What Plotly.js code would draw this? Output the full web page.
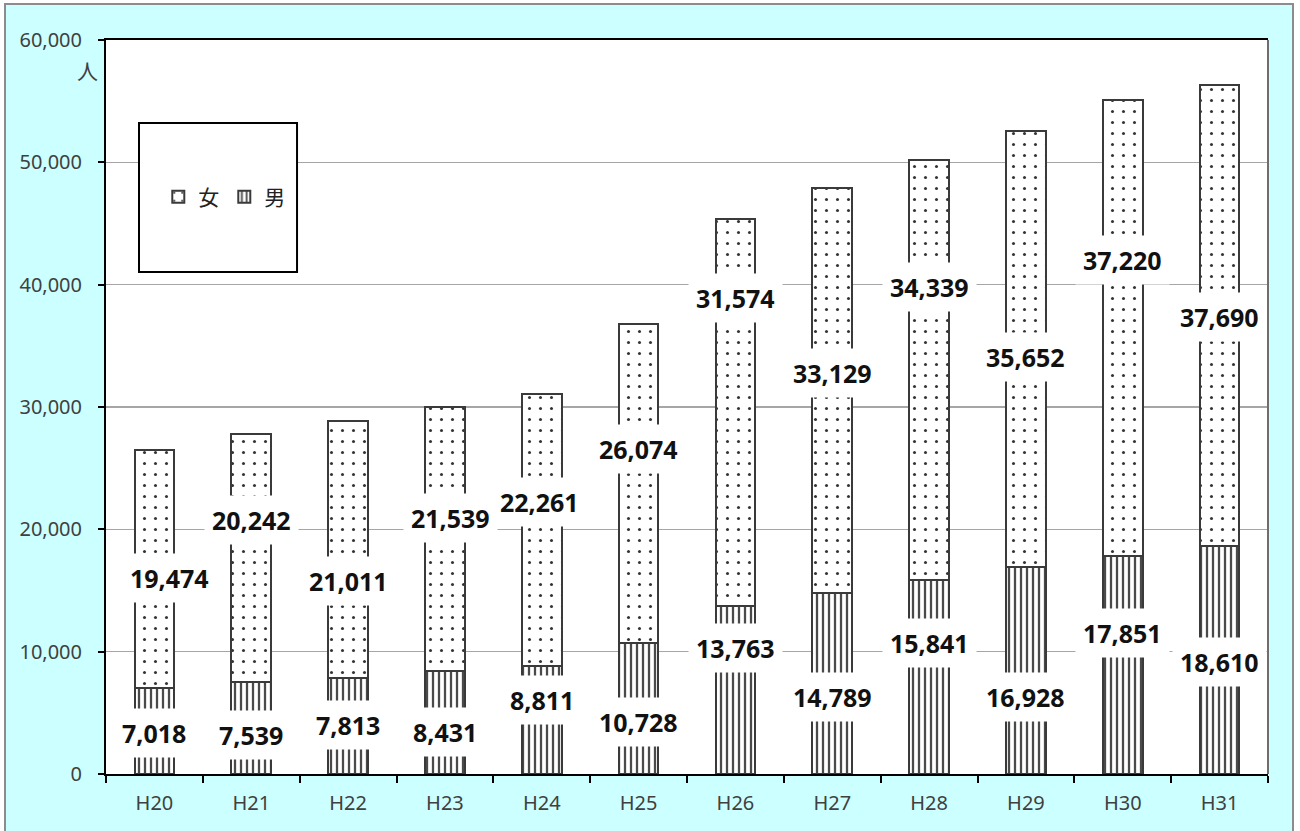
<!DOCTYPE html>
<html>
<head>
<meta charset="utf-8">
<script src="https://cdn.plot.ly/plotly-3.0.1.min.js"></script>
<style>
  html, body { margin: 0; padding: 0; overflow: hidden; background: #ffffff; width: 1300px; height: 831px; }
  #frame { position: absolute; left: 4px; top: 3px; width: 1290px; height: 840px;
           border: 2px solid #8c8c8c; background: #ccffff; box-sizing: border-box; }
  #chart { position: absolute; left: 7px; top: 5px; width: 1286px; height: 826px; }
</style>
</head>
<body>
<div id="frame"></div>
<div id="chart"></div>
<script>
// ---- data ----
const categories = ['H20','H21','H22','H23','H24','H25','H26','H27','H28','H29','H30','H31'];
const male   = [7018, 7539, 7813, 8431, 8811, 10728, 13763, 14789, 15841, 16928, 17851, 18610];
const female = [19474, 20242, 21011, 21539, 22261, 26074, 31574, 33129, 34339, 35652, 37220, 37690];
const seriesNames = ['男', '女'];
const yTickValues = [0, 10000, 20000, 30000, 40000, 50000, 60000];

// ---- label placement (data-unit heights where each value label sits) ----
const maleLabelAt   = [3350, 3190, 4000, 3430, 6050, 4250, 10300, 6290, 10710, 6290, 11530, 9160];
const femaleLabelAt = [16020, 20760, 15780, 20930, 22240, 26570, 38910, 32780, 39810, 34090, 42020, 37360];
const labelShiftX   = [15, 0, 0, 6, -2, 0, 0, 0, 0, 0, 0, 0];

const fmt = v => v.toLocaleString('en-US');

const traces = [
  {
    type: 'bar', name: seriesNames[0], x: categories, y: male,
    width: 0.41,
    marker: {
      color: '#ffffff',
      line: { color: '#3a3a3a', width: 2 },
      pattern: { shape: '|', fgcolor: '#4a4a4a', bgcolor: '#ffffff', size: 6, solidity: 0.38 }
    },
    hoverinfo: 'skip'
  },
  {
    type: 'bar', name: seriesNames[1], x: categories, y: female,
    width: 0.41,
    marker: {
      color: '#ffffff',
      line: { color: '#3a3a3a', width: 2 },
      pattern: { shape: '.', fgcolor: '#333333', bgcolor: '#ffffff', size: 11, solidity: 0.06 }
    },
    hoverinfo: 'skip'
  }
];

const labelFont = { family: '"Noto Sans", "DejaVu Sans", sans-serif', size: 25, color: '#111111', weight: 700 };
const annotations = [];
categories.forEach((c, i) => {
  annotations.push({
    x: c, y: maleLabelAt[i], xref: 'x', yref: 'y',
    text: '<b>' + fmt(male[i]) + '</b>', showarrow: false,
    font: labelFont, bgcolor: '#ffffff', borderpad: 7, xshift: 0
  });
  annotations.push({
    x: c, y: femaleLabelAt[i], xref: 'x', yref: 'y',
    text: '<b>' + fmt(female[i]) + '</b>', showarrow: false,
    font: labelFont, bgcolor: '#ffffff', borderpad: 7, xshift: labelShiftX[i]
  });
});
annotations.push({
  x: -0.005, y: 0.959, xref: 'paper', yref: 'paper', xanchor: 'right', yanchor: 'middle',
  text: '人', showarrow: false,
  font: { family: '"Noto Sans CJK JP", sans-serif', size: 21, color: '#404040' }
});

const layout = {
  width: 1286, height: 826,
  margin: { l: 99, r: 25, t: 35, b: 57 },
  paper_bgcolor: 'rgba(0,0,0,0)',
  plot_bgcolor: '#ffffff',
  barmode: 'stack',
  showlegend: true,
  legend: {
    orientation: 'h', traceorder: 'reversed',
    x: 0.045, y: 0.786, xanchor: 'left', yanchor: 'middle',
    bgcolor: 'rgba(0,0,0,0)', borderwidth: 0,
    font: { family: '"Noto Sans CJK JP", sans-serif', size: 21, color: '#222222' },
    itemwidth: 30, itemclick: false, itemdoubleclick: false
  },
  xaxis: {
    type: 'category',
    showline: true, linecolor: '#000000', linewidth: 2, mirror: true,
    ticks: 'outside', tickson: 'boundaries', ticklen: 7, tickcolor: '#000000', tickwidth: 2,
    ticklabelstandoff: 10,
    tickfont: { family: '"Noto Sans", sans-serif', size: 20, color: '#404040' },
    showgrid: false, fixedrange: true
  },
  yaxis: {
    range: [0, 60000], tickvals: yTickValues, tickformat: ',d',
    showline: true, linecolor: '#000000', linewidth: 2,
    ticks: 'outside', ticklen: 6, tickcolor: '#000000', tickwidth: 2,
    ticklabelstandoff: 12,
    tickfont: { family: '"Noto Sans", sans-serif', size: 20, color: '#404040' },
    showgrid: true, gridcolor: '#a6a6a6', gridwidth: 1.5,
    zeroline: false, fixedrange: true
  },
  shapes: [
    { type: 'rect', xref: 'paper', yref: 'paper', x0: 0.0284, x1: 0.1644, y0: 0.684, y1: 0.887,
      line: { color: '#000000', width: 2 }, fillcolor: '#ffffff', layer: 'above' },
    { type: 'line', xref: 'paper', yref: 'paper', x0: 1, x1: 1, y0: 0, y1: 1,
      line: { color: '#6e6e6e', width: 2 }, layer: 'above' }
  ],
  annotations: annotations,
  font: { family: '"Noto Sans", sans-serif' }
};

Plotly.newPlot('chart', traces, layout, { displayModeBar: false, staticPlot: true });
</script>
</body>
</html>
